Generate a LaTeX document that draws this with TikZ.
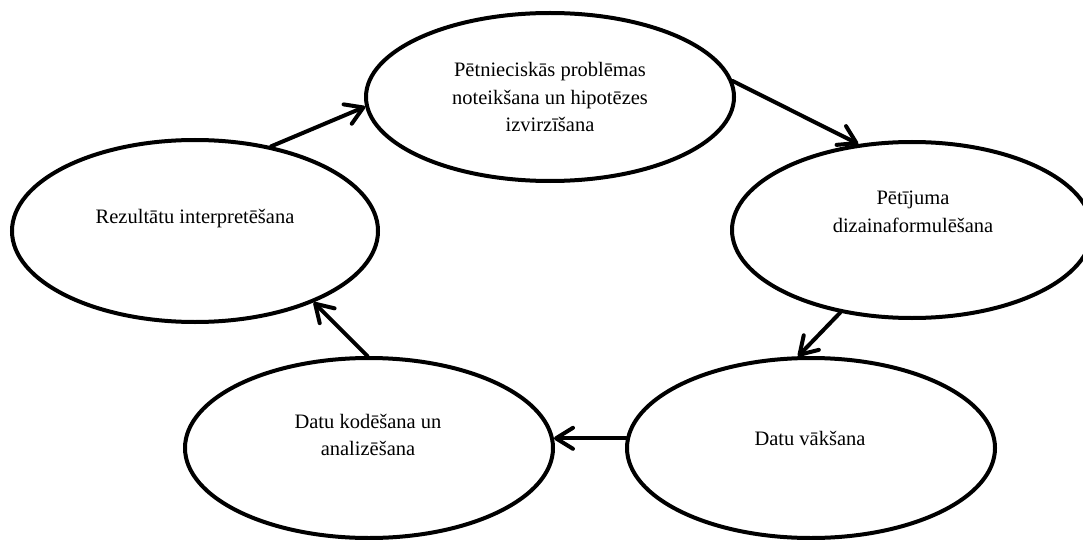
\documentclass[tikz,border=0pt]{standalone}
\usepackage{fontspec}
\setmainfont{Liberation Serif}
\usetikzlibrary{shapes.geometric,arrows.meta}
\begin{document}
\begin{tikzpicture}[x=1pt,y=-1pt,
  oval/.style={draw=black,line width=4pt,ellipse,inner sep=0pt},
  lbl/.style={align=center,font=\fontsize{20.5}{27.5}\selectfont,inner sep=0pt},
  conn/.style={line width=4pt,line cap=round,
    -{Straight Barb[length=17pt,width=21pt,line cap=round,line join=round]}}]
\useasboundingbox (0,0) rectangle (1083,540);
\node[oval,minimum width=368pt,minimum height=168pt] (e1) at (550,97) {};
\node[oval,minimum width=360pt,minimum height=176pt] (e2) at (912,230) {};
\node[oval,minimum width=368pt,minimum height=180pt] (e3) at (811,448) {};
\node[oval,minimum width=368pt,minimum height=180pt] (e4) at (369,448) {};
\node[oval,minimum width=366pt,minimum height=182pt] (e5) at (195,231) {};
\node[lbl] (t1) at (550,97) {Pētnieciskās problēmas\\noteikšana un hipotēzes\\izvirzīšana};
\node[lbl] (t2) at (913,212) {Pētījuma\\dizainaformulēšana};
\node[lbl] (t3) at (810,438) {Datu vākšana};
\node[lbl] (t4) at (368,435) {Datu kodēšana un\\analizēšana};
\node[lbl] (t5) at (195,219) {Rezultātu interpretēšana};
\draw[conn] (e5.48) -- (e1.183);
\draw[conn] (e1.5) -- (e2.122);
\draw[conn] (e2.229) -- (e3.98);
\draw[conn] (e3.177) -- (e4.3);
\draw[conn] (e4.91) -- (e5.329);
\end{tikzpicture}
\end{document}
